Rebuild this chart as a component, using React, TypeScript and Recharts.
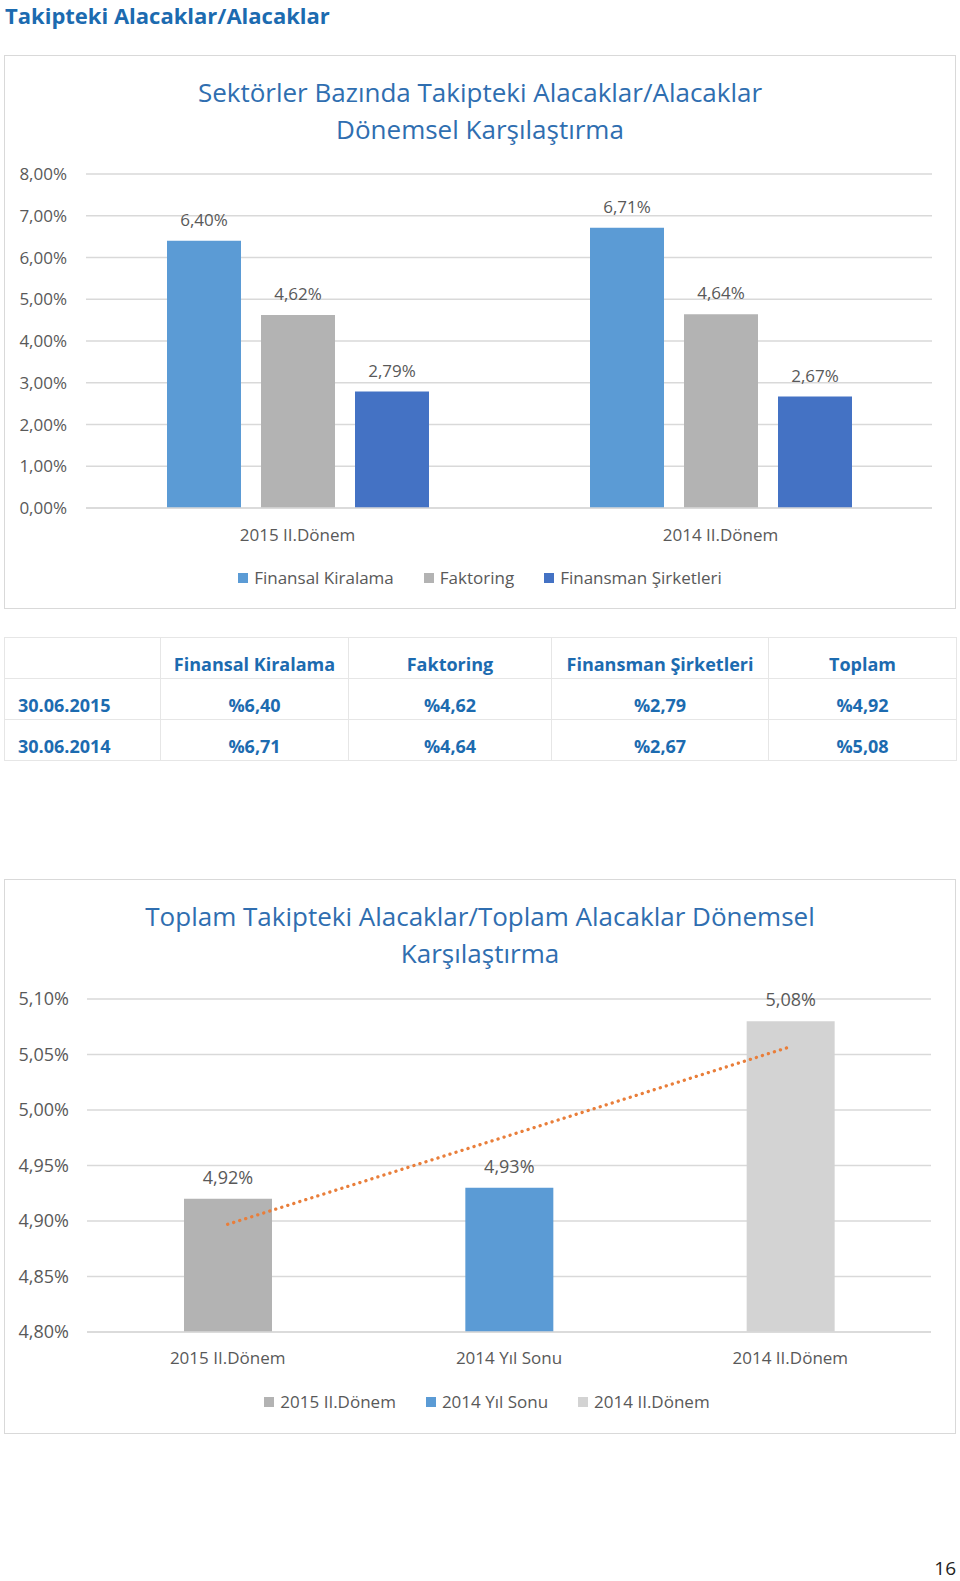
import React from 'react';
import {
  BarChart,
  Bar,
  ComposedChart,
  Line,
  XAxis,
  YAxis,
  CartesianGrid,
  LabelList,
  Legend,
  Cell,
} from 'recharts';

// ---------- data ----------
const periods1 = ['2015 II.Dönem', '2014 II.Dönem'];
const finansalKiralama = [6.4, 6.71];
const faktoring = [4.62, 4.64];
const finansmanSirketleri = [2.79, 2.67];
const yTicks1 = [0, 1, 2, 3, 4, 5, 6, 7, 8];
const seriesNames1 = ['Finansal Kiralama', 'Faktoring', 'Finansman Şirketleri'];
const seriesColors1 = ['#5B9BD5', '#B3B3B3', '#4472C4'];

const tableDates = ['30.06.2015', '30.06.2014'];
const tableHeaders = ['Finansal Kiralama', 'Faktoring', 'Finansman Şirketleri', 'Toplam'];
const toplam = [4.92, 5.08];

const categories2 = ['2015 II.Dönem', '2014 Yıl Sonu', '2014 II.Dönem'];
const totals2 = [4.92, 4.93, 5.08];
const trend2 = [4.897, 4.977, 5.057];
const colors2 = ['#B3B3B3', '#5B9BD5', '#D3D3D3'];
const yTicks2 = [4.8, 4.85, 4.9, 4.95, 5.0, 5.05, 5.1];

// ---------- styling ----------
const FONT = '"Open Sans", sans-serif';
const GRAY_TEXT = '#595959';
const GRID = '#D9D9D9';
const TITLE_BLUE = '#2F6EB0';
const DARK_BLUE = '#1C6BB0';

const fmtPct = (v: any) => Number(v).toFixed(2).replace('.', ',') + '%';
const fmtTable = (v: number) => '%' + v.toFixed(2).replace('.', ',');

const chart1Data = periods1.map((p, i) => ({
  period: p,
  finansalKiralama: finansalKiralama[i],
  faktoring: faktoring[i],
  finansmanSirketleri: finansmanSirketleri[i],
}));

const chart2Data = categories2.map((c, i) => ({
  category: c,
  total: totals2[i],
  trend: trend2[i],
}));

const tableRows = tableDates.map((d, i) => [
  d,
  fmtTable(finansalKiralama[i]),
  fmtTable(faktoring[i]),
  fmtTable(finansmanSirketleri[i]),
  fmtTable(toplam[i]),
]);

function SquareLegend({ items, shift = 0 }: { items: { label: string; color: string }[]; shift?: number }) {
  return (
    <div
      style={{
        display: 'flex',
        justifyContent: 'center',
        fontFamily: FONT,
        fontSize: 17,
        color: GRAY_TEXT,
        lineHeight: '24px',
        paddingLeft: shift,
      }}
    >
      {items.map((it, i) => (
        <span
          key={i}
          style={{ display: 'inline-flex', alignItems: 'center', marginLeft: i ? 30 : 0 }}
        >
          <span
            style={{ width: 10, height: 10, background: it.color, marginRight: 6, display: 'inline-block' }}
          />
          {it.label}
        </span>
      ))}
    </div>
  );
}

const tickStyle = { fill: GRAY_TEXT, fontSize: 17, fontFamily: FONT };
const tickStyle2 = { fill: GRAY_TEXT, fontSize: 18, fontFamily: FONT };

const boxStyle: React.CSSProperties = {
  position: 'absolute',
  left: 4,
  width: 950,
  border: `1px solid ${GRID}`,
  background: '#fff',
};

const colWidths = [156, 188, 203, 217, 188];

const cellBase: React.CSSProperties = {
  border: '1px solid #E6E6E6',
  paddingTop: 12,
  paddingBottom: 0,
  paddingRight: 0,
  verticalAlign: 'middle',
};

export default function App() {
  const keys1 = ['finansalKiralama', 'faktoring', 'finansmanSirketleri'];
  return (
    <div style={{ position: 'absolute', left: 0, top: 0, width: 960, height: 1581, background: '#fff', overflow: 'hidden' }}>
      {/* page title */}
      <div
        style={{
          position: 'absolute',
          left: 5,
          top: 0,
          lineHeight: '30px',
          fontFamily: FONT,
          fontWeight: 700,
          fontSize: 22,
          color: DARK_BLUE,
        }}
      >
        Takipteki Alacaklar/Alacaklar
      </div>

      {/* chart 1 box */}
      <div style={{ ...boxStyle, top: 55, height: 552 }} />
      <div
        style={{
          position: 'absolute',
          left: 0,
          top: 74,
          width: 960,
          textAlign: 'center',
          fontFamily: FONT,
          fontSize: 26,
          lineHeight: '37px',
          color: TITLE_BLUE,
        }}
      >
        Sektörler Bazında Takipteki Alacaklar/Alacaklar
        <br />
        Dönemsel Karşılaştırma
      </div>
      <div style={{ position: 'absolute', left: 0, top: 0 }}>
        <BarChart
          width={960}
          height={620}
          data={chart1Data}
          margin={{ top: 174, right: 28, bottom: 82, left: 6 }}
          barGap={20}
          barSize={74}
        >
          <CartesianGrid vertical={false} stroke={GRID} strokeWidth={1.5} />
          <XAxis
            dataKey="period"
            axisLine={{ stroke: GRID, strokeWidth: 1.5 }}
            tickLine={false}
            tickSize={0}
            tickMargin={21}
            height={30}
            tick={tickStyle}
            interval={0}
          />
          <YAxis
            width={80}
            domain={[0, 8]}
            ticks={yTicks1}
            tickFormatter={fmtPct}
            axisLine={false}
            tickLine={false}
            tickSize={0}
            tickMargin={19}
            tick={tickStyle}
            interval={0}
          />
          <Legend
            verticalAlign="middle"
            align="center"
            wrapperStyle={{ left: 0, top: 566, width: 960 }}
            content={() => (
              <SquareLegend items={seriesNames1.map((n, i) => ({ label: n, color: seriesColors1[i] }))} />
            )}
          />
          {keys1.map((k, i) => (
            <Bar key={k} dataKey={k} name={seriesNames1[i]} fill={seriesColors1[i]} isAnimationActive={false}>
              <LabelList
                dataKey={k}
                position="top"
                offset={15}
                formatter={fmtPct}
                fill={GRAY_TEXT}
                fontSize={17}
                fontFamily={FONT}
              />
            </Bar>
          ))}
        </BarChart>
      </div>

      {/* table */}
      <table
        style={{
          position: 'absolute',
          left: 4,
          top: 637,
          width: 952,
          borderCollapse: 'collapse',
          tableLayout: 'fixed',
          fontFamily: FONT,
          fontWeight: 700,
          fontSize: 18,
          color: DARK_BLUE,
        }}
      >
        <colgroup>
          {colWidths.map((w, i) => (
            <col key={i} style={{ width: w }} />
          ))}
        </colgroup>
        <tbody>
          <tr style={{ height: 41 }}>
            <td style={{ ...cellBase, paddingLeft: 0 }} />
            {tableHeaders.map((h, i) => (
              <td key={i} style={{ ...cellBase, textAlign: 'center', paddingLeft: 0 }}>
                {h}
              </td>
            ))}
          </tr>
          {tableRows.map((row, r) => (
            <tr key={r} style={{ height: 41 }}>
              {row.map((c, i) => (
                <td
                  key={i}
                  style={{
                    ...cellBase,
                    textAlign: i === 0 ? 'left' : 'center',
                    paddingLeft: i === 0 ? 13 : 0,
                  }}
                >
                  {c}
                </td>
              ))}
            </tr>
          ))}
        </tbody>
      </table>

      {/* chart 2 box */}
      <div style={{ ...boxStyle, top: 879, height: 553 }} />
      <div
        style={{
          position: 'absolute',
          left: 0,
          top: 898,
          width: 960,
          textAlign: 'center',
          fontFamily: FONT,
          fontSize: 26,
          lineHeight: '37px',
          color: TITLE_BLUE,
        }}
      >
        Toplam Takipteki Alacaklar/Toplam Alacaklar Dönemsel
        <br />
        Karşılaştırma
      </div>
      <div style={{ position: 'absolute', left: 0, top: 870 }}>
        <ComposedChart
          width={960}
          height={580}
          data={chart2Data}
          margin={{ top: 129, right: 29, bottom: 88, left: 7 }}
          barSize={88}
        >
          <CartesianGrid vertical={false} stroke={GRID} strokeWidth={1.5} />
          <XAxis
            dataKey="category"
            axisLine={{ stroke: GRID, strokeWidth: 1.5 }}
            tickLine={false}
            tickSize={0}
            tickMargin={20}
            height={30}
            tick={tickStyle}
            interval={0}
          />
          <YAxis
            width={80}
            domain={[4.8, 5.1]}
            ticks={yTicks2}
            allowDataOverflow
            tickFormatter={fmtPct}
            axisLine={false}
            tickLine={false}
            tickSize={0}
            tickMargin={18}
            tick={tickStyle2}
            interval={0}
          />
          <Legend
            verticalAlign="middle"
            align="center"
            wrapperStyle={{ left: 0, top: 520, width: 960 }}
            content={() => (
              <SquareLegend shift={14} items={categories2.map((c, i) => ({ label: c, color: colors2[i] }))} />
            )}
          />
          <Bar dataKey="total" isAnimationActive={false}>
            {chart2Data.map((d, i) => (
              <Cell key={d.category} fill={colors2[i]} />
            ))}
            <LabelList
              dataKey="total"
              position="top"
              offset={15}
              formatter={fmtPct}
              fill={GRAY_TEXT}
              fontSize={18}
              fontFamily={FONT}
            />
          </Bar>
          <Line
            dataKey="trend"
            type="linear"
            stroke="#E97E3A"
            strokeWidth={3.3}
            strokeDasharray="0.1 6.2"
            strokeLinecap="round"
            dot={false}
            activeDot={false}
            legendType="none"
            isAnimationActive={false}
          />
        </ComposedChart>
      </div>

      {/* page number */}
      <div
        style={{
          position: 'absolute',
          right: 4,
          top: 1559,
          lineHeight: '19px',
          fontFamily: FONT,
          fontSize: 19,
          color: '#222',
        }}
      >
        16
      </div>
    </div>
  );
}
